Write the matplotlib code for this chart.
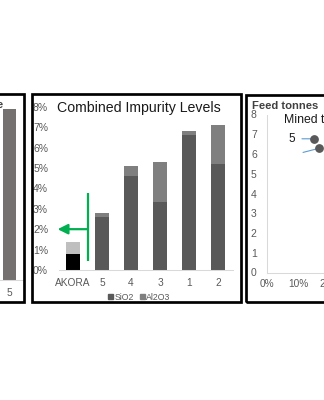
import matplotlib
matplotlib.use('Agg')
import matplotlib.pyplot as plt
from matplotlib.patches import Rectangle, Patch
from matplotlib.ticker import PercentFormatter, FixedLocator

# ---------------- data ----------------
categories = ['AKORA', '5', '4', '3', '1', '2']
sio2 = [0.80, 2.60, 4.60, 3.35, 6.60, 5.20]          # % SiO2
al2o3 = [0.55, 0.20, 0.50, 1.95, 0.20, 1.90]         # % Al2O3
mid_yticks = [0, 1, 2, 3, 4, 5, 6, 7, 8]

left_categories = ['5']
left_values = [0.95]

feed_x = [0.151, 0.167]
feed_y = [6.77, 6.29]
feed_labels = ['5', '']
right_yticks = [0, 1, 2, 3, 4, 5, 6, 7, 8]
right_xticks = [0.0, 0.1, 0.2]

# ---------------- style ----------------
W, H = 324, 400
NARROW = ['Liberation Sans Narrow', 'Liberation Sans', 'DejaVu Sans']
SANS = ['Liberation Sans', 'DejaVu Sans']
TICK_C = '#595959'
SPINE_C = '#d9d9d9'
GREEN = '#00b050'
BLUE = '#5b9bd5'

fig = plt.figure(figsize=(W / 100, H / 100), dpi=100)
fig.patch.set_facecolor('white')


def axes_px(l, t, r, b):
    return fig.add_axes([l / W, 1 - b / H, (r - l) / W, (b - t) / H])


def border_px(l, t, r, b, lw=1.95):
    fig.add_artist(Rectangle((l / W, 1 - b / H), (r - l) / W, (b - t) / H,
                             transform=fig.transFigure, fill=False,
                             lw=lw, ec='black', clip_on=False, zorder=10))


# ---------------- panel borders ----------------
border_px(-60, 93.8, 23.7, 301.5)
border_px(32, 93.8, 240.5, 301.5)
border_px(246, 94.6, 500, 301.5)

# ---------------- left (cut) panel ----------------
axl = axes_px(-34.15, 100, 23.85, 280)
axl.bar(range(len(left_categories)), left_values, width=0.46, color='#767171')
axl.set_xlim(-1.5, 0.5)
axl.set_ylim(0, 1)
axl.set_xticks(range(len(left_categories)))
axl.set_xticklabels(left_categories, family=NARROW, fontsize=7.3, color=TICK_C)
axl.set_yticks([])
for s in ['top', 'right', 'left']:
    axl.spines[s].set_visible(False)
axl.spines['bottom'].set_color(SPINE_C)
axl.spines['bottom'].set_linewidth(0.75)
axl.tick_params(axis='x', length=0, pad=5.5)
fig.text(3.3 / W, 1 - 108 / H, 'Feed grade', ha='right', va='baseline',
         fontsize=8.1, fontweight='bold', color='#404040', family=SANS)

# ---------------- middle panel ----------------
ax = axes_px(58.5, 106.7, 232.5, 270)
x = list(range(len(categories)))
bottom_colors = ['black'] + ['#595959'] * (len(categories) - 1)
top_colors = ['#bfbfbf'] + ['#7f7f7f'] * (len(categories) - 1)
ax.bar(x, sio2, width=0.5, color=bottom_colors, zorder=2)
ax.bar(x, al2o3, width=0.5, bottom=sio2, color=top_colors, zorder=2)
ax.set_xlim(-0.5, len(categories) - 0.5)
ax.set_ylim(0, 8)
ax.yaxis.set_major_locator(FixedLocator(mid_yticks))
ax.yaxis.set_major_formatter(PercentFormatter(xmax=100, decimals=0))
ax.set_xticks(x)
ax.set_xticklabels(categories)
for s in ['top', 'right', 'left']:
    ax.spines[s].set_visible(False)
ax.spines['bottom'].set_color(SPINE_C)
ax.spines['bottom'].set_linewidth(0.75)
ax.tick_params(axis='x', length=0, pad=5.5, labelcolor=TICK_C, labelsize=7.3)
ax.tick_params(axis='y', length=0, pad=7.5, labelcolor=TICK_C, labelsize=7.5)
for lab in ax.get_xticklabels() + ax.get_yticklabels():
    lab.set_family(NARROW)

ax.text(57 / W, 1 - 108 / H, 'Combined Impurity Levels', transform=fig.transFigure,
        ha='left', va='center', fontsize=10.2, color='#1a1a1a', family=SANS)

# green marker: vertical bar + arrow pointing left at the 2% level
arrow_x, arrow_top, arrow_bottom = 0.50, 3.79, 0.46
arrow_level, arrow_tip = 2.0, -0.53
ax.plot([arrow_x, arrow_x], [arrow_bottom, arrow_top], color=GREEN, lw=1.6,
        solid_capstyle='butt', zorder=5)
ax.annotate('', xy=(arrow_tip, arrow_level), xytext=(arrow_x, arrow_level),
            arrowprops=dict(arrowstyle='-|>,head_length=0.4,head_width=0.2',
                            lw=1.6, color=GREEN, mutation_scale=15,
                            shrinkA=0, shrinkB=0),
            annotation_clip=False, zorder=5)

handles = [Patch(color='#595959', label='SiO2'), Patch(color='#7f7f7f', label='Al2O3')]
fig.legend(handles=handles, loc='center', bbox_to_anchor=(139.5 / W, 1 - 297 / H),
           ncol=2, frameon=False, handlelength=0.55, handleheight=0.55,
           handletextpad=0.15, columnspacing=0.7, borderpad=0,
           prop={'family': NARROW, 'size': 6.3}, labelcolor=TICK_C)

# ---------------- right (cut) panel ----------------
axr = axes_px(266.5, 114.5, 392.5, 272.5)
axr.scatter(feed_x, feed_y, s=28, color='#595959', zorder=4)
axr.annotate(feed_labels[0], xy=(feed_x[0], feed_y[0]), xytext=(0.08, feed_y[0]),
             ha='center', va='center', fontsize=8.5, color='#1a1a1a', family=SANS,
             arrowprops=dict(arrowstyle='-', color=BLUE, lw=0.8, shrinkA=3, shrinkB=0),
             zorder=3)
axr.annotate(feed_labels[1], xy=(feed_x[1], feed_y[1]), xytext=(0.116, 6.08),
             ha='center', va='center', fontsize=8.5,
             arrowprops=dict(arrowstyle='-', color=BLUE, lw=0.8, shrinkA=0, shrinkB=0),
             zorder=3)
axr.set_xlim(0, 0.4)
axr.set_ylim(0, 8)
axr.xaxis.set_major_locator(FixedLocator(right_xticks))
axr.xaxis.set_major_formatter(PercentFormatter(xmax=1, decimals=0))
axr.yaxis.set_major_locator(FixedLocator(right_yticks))
for s in ['top', 'right']:
    axr.spines[s].set_visible(False)
for s in ['bottom', 'left']:
    axr.spines[s].set_color(SPINE_C)
    axr.spines[s].set_linewidth(0.75)
axr.tick_params(axis='x', length=0, pad=5, labelcolor=TICK_C, labelsize=7.3)
axr.tick_params(axis='y', length=0, pad=7, labelcolor=TICK_C, labelsize=7.5)
for lab in axr.get_xticklabels() + axr.get_yticklabels():
    lab.set_family(NARROW)

fig.text(252 / W, 1 - 109 / H, 'Feed tonnes', ha='left', va='baseline',
         fontsize=8.1, fontweight='bold', color='#404040', family=SANS)
fig.text(284 / W, 1 - 120 / H, 'Mined tonnes', ha='left', va='center',
         fontsize=8.8, color='#1a1a1a', family=SANS)

fig.savefig('out.png', dpi=100, facecolor='white')
